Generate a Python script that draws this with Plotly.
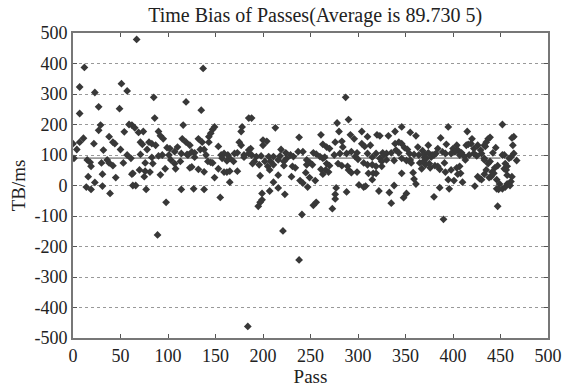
import plotly.graph_objects as go

# Estimated (pass, time bias in ms)
passes = [
    12, 7, 23, 51, 57, 27, 49, 7, 29, 59, 27, 54, 38, 11, 42, 0, 7, 22, 44, 4, 32, 50, 57, 1, 15, 18, 36, 38, 19, 42,
    53, 30, 16, 31, 23, 45, 14, 19, 31, 39, 62,
    67, 85, 119, 86, 62, 65, 69, 74, 90, 92, 95, 116, 71, 73, 80, 83, 87, 78, 99, 102, 110, 115, 119, 107, 114, 120,
    71, 94, 90, 101, 61, 83, 76, 84, 103, 113, 107, 63, 70, 76, 81, 75, 92, 97, 108, 123, 63, 66, 77, 114, 98, 89,
    137, 135, 185, 149, 147, 145, 143, 178, 177, 175, 177, 132, 136, 143, 134, 138, 153, 123, 125, 128, 121, 140, 156,
    159, 163, 170, 173, 180, 185, 128, 142, 145, 147, 157, 165, 162, 169, 180, 125, 132, 138, 153, 159, 162, 165, 173,
    149, 165, 127, 138, 155,
    188, 213, 238, 200, 204, 200, 187, 185, 188, 219, 224, 229, 237, 242, 193, 198, 206, 211, 218, 232, 202, 208, 216,
    222, 225, 191, 189, 196, 205, 211, 222, 231, 234, 246, 197, 207, 216, 230, 245, 239, 242, 211, 216, 207, 199, 247,
    223, 199, 197, 195, 241, 221,
    287, 290, 278, 261, 280, 292, 304, 263, 267, 270, 276, 283, 296, 304, 307, 284, 253, 256, 260, 265, 275, 281, 288,
    293, 299, 246, 249, 252, 263, 267, 270, 279, 283, 289, 297, 300, 306, 261, 266, 269, 263, 249, 255, 290, 293, 299,
    277, 276, 288, 301, 306, 276, 256, 253, 273,
    346, 339, 355, 361, 320, 323, 332, 310, 343, 339, 346, 313, 363, 349, 352, 340, 368, 310, 319, 326, 330, 335, 354,
    359, 364, 343, 315, 323, 327, 346, 351, 355, 356, 365, 370, 330, 325, 338, 310, 315, 319, 325, 311, 316, 319, 315,
    346, 358, 359, 361, 367, 371, 308, 322, 338, 333, 335, 351, 348,
    395, 415, 387, 420, 374, 393, 404, 416, 419, 426, 433, 370, 384, 400, 405, 414, 422, 429, 374, 378, 382, 389, 392,
    398, 402, 407, 409, 412, 417, 422, 425, 430, 372, 377, 380, 413, 433, 369, 375, 376, 381, 384, 391, 398, 404, 407,
    405, 392, 408, 426, 428, 430, 433, 386, 395, 401, 410, 423, 386, 396, 380, 390,
    452, 464, 462, 463, 437, 439, 435, 434, 445, 442, 454, 452, 464, 461, 459, 467, 433, 437, 439, 444, 447, 455, 457,
    454, 441, 435, 440, 438, 443, 456, 457, 462, 461, 446, 449, 457, 446, 448, 452, 455, 460, 447,
    238, 184,
]

tb_ms = [
    387, 323, 305, 334, 310, 258, 252, 236, 198, 200, 181, 176, 160, 155, 142, 137, 142, 137, 137, 118, 116, 118, 100,
    89, 84, 76, 84, 74, 63, 65, 74, 74, 29, 37, 10, 26, -5, -13, -2, -26, 37,
    479, 289, 274, 221, 198, 189, 174, 177, 177, 163, 153, 198, 142, 135, 142, 137, 132, 118, 124, 121, 126, 153, 142,
    111, 105, 102, 102, 100, 97, 100, 89, 92, 74, 72, 84, 79, 72, 40, 51, 47, 44, 29, 35, 55, 55, 58, 0, 0, -13, -13,
    -55, -162,
    384, 247, 221, 192, 184, 171, 160, 192, 177, 142, 132, 153, 142, 142, 118, 118, 128, 132, 110, 107, 100, 100, 100,
    105, 100, 105, 107, 100, 116, 93, 79, 76, 74, 89, 89, 81, 79, 93, 61, 53, 45, 55, 44, 44, 47, 47,
    26, 11, -11, -13, -39,
    221, 189, 158, 149, 145, 132, 121, 105, 100, 118, 107, 100, 111, 111, 95, 97, 95, 95, 97, 95, 79, 79, 84,
    79, 89, 79, 72, 68, 63, 68, 65, 63, 58, 68, 32, 51, 34, 29, 42, 16, 8, 11, -8, -18, -26, -5,
    -29, -47, -55, -68, -95, -149,
    289, 216, 205, 166, 177, 166, 177, 135, 126, 121, 142, 145, 153, 137, 128, 126, 107, 103, 95, 93, 100, 105, 105,
    111, 107, 84, 76, 68, 89, 72, 65, 72, 65, 63, 95, 86, 74, 53, 51, 44, 37, 26, 16, 51, 42, 44,
    -8, -29, -21, 2, -5, -44, -55, -65, -76,
    192, 177, 174, 163, 166, 163, 163, 160, 142, 137, 137, 132, 126, 124, 118, 116, 114, 105, 105, 107, 105, 107, 105,
    102, 100, 107, 93, 89, 100, 89, 82, 84, 74, 74, 93, 84, 79, 82, 68, 68, 63, 63, 40, 40, 40, 19,
    40, 42, 21, 5, 55, 68, -2, -18, 0, -23, -58, -26, -40,
    192, 177, 156, 153, 132, 135, 132, 135, 137, 132, 132, 103, 121, 121, 116, 132, 121, 116, 107, 100, 105, 110, 105,
    105, 110, 100, 107, 95, 100, 105, 97, 105, 89, 93, 100, 84, 89, 79, 72, 58, 65, 63, 74, 51, 58, 63,
    37, 44, 40, 29, 23, 19, 37, 53, 19, 16, 11, -2, -7, -11, -37, -111,
    200, 160, 156, 132, 153, 158, 142, 128, 124, 107, 100, 100, 105, 93, 89, 82, 84, 72, 79, 58, 65, 72, 63,
    55, 44, 51, 29, 26, 40, 51, 34, 29, 13, 19, 5, 5, -11, -13, -11, -5, 0, -68,
    -244, -462,
]

average = 89.7305
mean_x = [0, 450]
mean_y = [average, average]

x_ticks = [0, 50, 100, 150, 200, 250, 300, 350, 400, 450, 500]
y_ticks = [-500, -400, -300, -200, -100, 0, 100, 200, 300, 400, 500]
y_tick_text = ["-500", "-400", "-300", "-200", "-100", "0", "100", "200", "300", "400", "500"]

serif = "Liberation Serif, Times New Roman, serif"

fig = go.Figure()
fig.add_trace(go.Scatter(
    x=mean_x, y=mean_y, mode="lines",
    line=dict(color="#9a9a9a", width=1.6), hoverinfo="skip", showlegend=False,
))
fig.add_trace(go.Scatter(
    x=passes, y=tb_ms, mode="markers",
    marker=dict(symbol="diamond", size=6, color="#383838", line=dict(width=0)),
    showlegend=False,
))

fig.update_layout(
    width=574, height=391,
    margin=dict(l=73, r=19, t=33, b=43),
    paper_bgcolor="white", plot_bgcolor="white",
    font=dict(family=serif, size=18, color="#222"),
    title=dict(text="Time Bias of Passes(Average is 89.730 5)", x=0.549, xanchor="center",
               y=0.962, yanchor="middle", font=dict(family=serif, size=20, color="#222")),
)
fig.update_xaxes(
    range=[0, 500], tickvals=x_ticks, ticks="inside", ticklen=4, tickcolor="#555",
    showline=True, linecolor="#777", linewidth=2, mirror="ticks",
    showgrid=False, zeroline=False,
    title=dict(text="Pass", standoff=0, font=dict(family=serif, size=19)),
    tickfont=dict(family=serif, size=18),
)
fig.update_yaxes(
    range=[-500, 500], tickvals=y_ticks, ticktext=y_tick_text, ticks="inside", ticklen=4, tickcolor="#555",
    showline=True, linecolor="#777", linewidth=2, mirror="ticks",
    showgrid=True, gridcolor="#999999", griddash="dot", gridwidth=1, zeroline=False,
    title=dict(text="TB/ms", standoff=4, font=dict(family=serif, size=19)),
    tickfont=dict(family=serif, size=18),
)

fig.write_html("out.html")
